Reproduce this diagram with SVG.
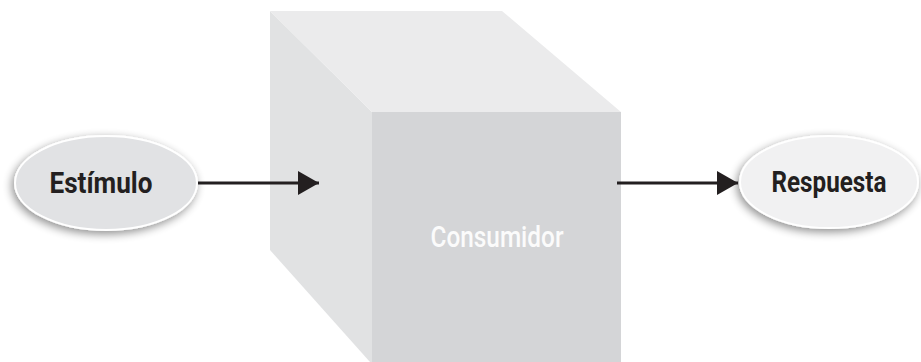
<svg xmlns="http://www.w3.org/2000/svg" width="921" height="362" viewBox="0 0 921 362">
<defs>
<style>
.lbl{font-family:Roboto,"Liberation Sans",sans-serif;font-weight:bold;font-size:29px;fill:#231f20;text-anchor:middle}
.cube{font-family:Roboto,"Liberation Sans",sans-serif;font-weight:500;font-size:30px;fill:#fbfbfb;text-anchor:middle}
.conn{stroke:#231f20;stroke-width:3;fill:none}
</style>
<filter id="sh" x="-30%" y="-40%" width="160%" height="180%">
<feGaussianBlur in="SourceAlpha" stdDeviation="5"/>
<feOffset dx="-2" dy="3" result="b"/>
<feComponentTransfer><feFuncA type="linear" slope="0.45"/></feComponentTransfer>
<feMerge><feMergeNode/><feMergeNode in="SourceGraphic"/></feMerge>
</filter>
<marker id="ah" markerWidth="7" markerHeight="8" refX="7" refY="4" orient="auto" markerUnits="strokeWidth">
<path d="M0,0 L7,4 L0,8 Z" fill="#231f20"/>
</marker>
</defs>
<rect width="921" height="362" fill="#ffffff"/>
<g id="consumidor">
<polygon points="270,11 372,112 372,362 370,362 270,250" fill="#e1e2e3"/>
<polygon points="270,11 502,11 621,112 372,112" fill="#ebebec"/>
<rect x="372" y="112" width="249" height="250" fill="#d4d5d7"/>
<text class="cube" x="497" y="247" textLength="133" lengthAdjust="spacingAndGlyphs">Consumidor</text>
</g>
<g id="estimulo">
<ellipse cx="106" cy="183" rx="91" ry="47" fill="#e1e2e4" stroke="#ffffff" stroke-width="2" filter="url(#sh)"/>
<text class="lbl" x="101" y="193" textLength="103" lengthAdjust="spacingAndGlyphs">Estímulo</text>
</g>
<g id="respuesta">
<ellipse cx="829" cy="182" rx="89" ry="46" fill="#f1f1f2" stroke="#ffffff" stroke-width="2" filter="url(#sh)"/>
<text class="lbl" x="829" y="192" textLength="115" lengthAdjust="spacingAndGlyphs">Respuesta</text>
</g>
<g id="connectors">
<line class="conn" x1="198" y1="183" x2="319" y2="183" marker-end="url(#ah)"/>
<line class="conn" x1="617" y1="183" x2="738" y2="183" marker-end="url(#ah)"/>
</g>
</svg>
